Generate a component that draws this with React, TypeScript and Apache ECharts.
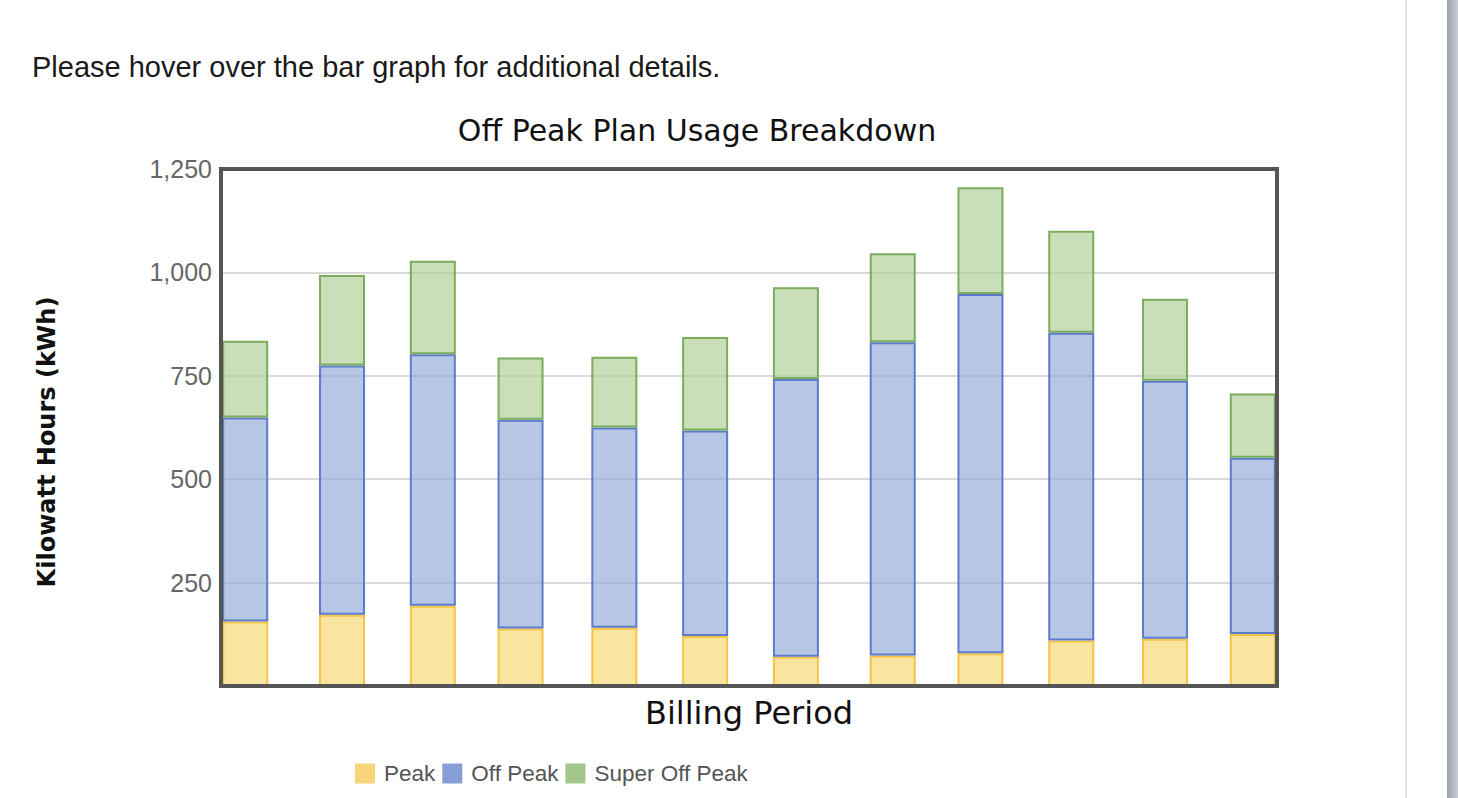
import React, { useEffect, useRef } from "react";
import * as echarts from "echarts";

// Billing period dates (bar centres on a time axis)
const periods = [
  "2022-10-12", "2022-11-13", "2022-12-13", "2023-01-11", "2023-02-11", "2023-03-13",
  "2023-04-12", "2023-05-14", "2023-06-12", "2023-07-12", "2023-08-12", "2023-09-10",
];
const peak = [156, 172, 194, 139, 141, 121, 71, 74, 79, 110, 114, 126];
const offPeak = [493, 603, 608, 505, 484, 497, 671, 757, 869, 744, 624, 426];
const superOffPeak = [186, 219, 226, 150, 171, 226, 222, 215, 258, 247, 198, 155];
const seriesNames = ["Peak", "Off Peak", "Super Off Peak"];
// ECharts widens a bar series' time axis by one bar width beyond these limits
const xMin = "2022-10-11 14:24";
const xMax = "2023-09-10 09:36";
const yMin = 0;
const yMax = 1250;
const yInterval = 250;

const W = 1458;
const H = 798;
const G = { left: 221, top: 169, right: 181, bottom: 112 };

export default function App() {
  const ref = useRef<HTMLDivElement>(null);
  useEffect(() => {
    if (!ref.current) return;
    const chart = echarts.init(ref.current, null, { renderer: "svg" });
    const fills = ["rgba(247,215,109,0.65)", "rgba(144,167,215,0.65)", "rgba(173,204,147,0.65)"];
    const borders = ["#f5c446", "#5b7ccb", "#7aad5b"];
    const solids = ["#f8d57b", "#869fd6", "#a4c68a"];
    const values = [peak, offPeak, superOffPeak];
    const gw = W - G.left - G.right;
    const gh = H - G.top - G.bottom;
    chart.setOption({
      animation: false,
      title: {
        text: "Off Peak Plan Usage Breakdown",
        left: 697,
        top: 115,
        padding: 0,
        textAlign: "center",
        textStyle: { fontFamily: "DejaVu Sans", fontSize: 30, fontWeight: "normal", color: "#111" },
      },
      grid: { left: G.left, top: G.top, right: G.right, bottom: G.bottom, containLabel: false },
      legend: {
        left: 355,
        top: 762,
        padding: 0,
        itemWidth: 20,
        itemHeight: 20,
        itemGap: 7,
        icon: "rect",
        textStyle: { fontFamily: "Liberation Sans", fontSize: 22.5, color: "#555", padding: [0, 0, 0, 4] },
        data: seriesNames.map((n, i) => ({ name: n, itemStyle: { color: solids[i], borderWidth: 0 } })),
      },
      xAxis: {
        type: "time",
        min: xMin,
        max: xMax,
        axisLabel: { show: false },
        axisTick: { show: false },
        axisLine: { show: false },
        splitLine: { show: false },
        name: "Billing Period",
        nameLocation: "middle",
        nameGap: 11,
        nameTextStyle: { fontFamily: "DejaVu Sans", fontSize: 32, color: "#111", verticalAlign: "top" },
      },
      yAxis: {
        type: "value",
        min: yMin,
        max: yMax,
        interval: yInterval,
        axisLine: { show: false },
        axisTick: { show: false },
        axisLabel: {
          showMinLabel: false,
          formatter: (v: number) => v.toLocaleString("en-US"),
          color: "#666",
          fontFamily: "Liberation Sans",
          fontSize: 25,
          margin: 9,
        },
        splitLine: { lineStyle: { color: "#d9d9d9", width: 2 } },
      },
      series: seriesNames.map((n, i) => ({
        name: n,
        type: "bar",
        stack: "usage",
        barWidth: 46,
        data: periods.map((d, j) => [d, values[i][j]]),
        itemStyle: { color: fills[i], borderColor: borders[i], borderWidth: 2 },
      })),
      graphic: [
        {
          type: "text",
          x: 32,
          y: 67,
          style: {
            text: "Please hover over the bar graph for additional details.",
            fontFamily: "Liberation Sans",
            fontSize: 29,
            fill: "#1a1a1a",
            verticalAlign: "middle",
          },
        },
        {
          type: "text",
          x: 47,
          y: 442,
          rotation: Math.PI / 2,
          style: {
            text: "Kilowatt Hours (kWh)",
            fontFamily: "DejaVu Sans",
            fontWeight: "bold",
            fontSize: 24,
            fill: "#111",
            align: "center",
            verticalAlign: "middle",
          },
        },
        {
          type: "rect",
          z: 100,
          shape: { x: G.left, y: G.top, width: gw, height: gh },
          style: { fill: "none", stroke: "#555", lineWidth: 4 },
        },
        { type: "rect", shape: { x: 1405, y: 0, width: 2, height: H }, style: { fill: "#e2e2e2" } },
        {
          type: "rect",
          shape: { x: 1447, y: 0, width: 11, height: H },
          style: {
            fill: new echarts.graphic.LinearGradient(0, 0, 1, 0, [
              { offset: 0, color: "#9ba1ab" },
              { offset: 1, color: "#c9cdd3" },
            ]),
          },
        },
      ],
    });
    return () => chart.dispose();
  }, []);
  return (
    <div
      ref={ref}
      style={{ position: "fixed", left: 0, top: 0, width: W, height: H, background: "#fff" }}
    />
  );
}
